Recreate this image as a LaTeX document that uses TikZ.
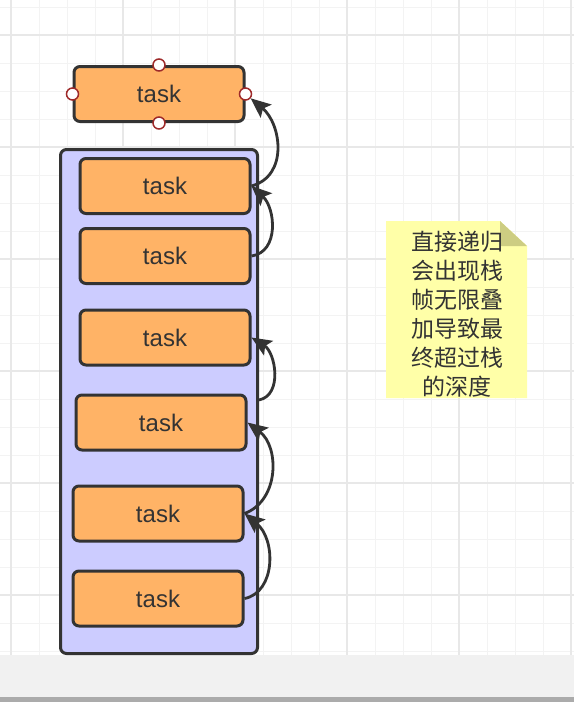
\documentclass[tikz,border=0pt]{standalone}
\usepackage{fontspec}
\setmainfont{Liberation Sans}
\newfontfamily\cjk{Noto Sans CJK SC}
\usetikzlibrary{arrows.meta,calc}
\definecolor{ink}{HTML}{333333}
\definecolor{taskfill}{HTML}{FFB366}
\definecolor{stackfill}{HTML}{CCCCFF}
\definecolor{notefill}{HTML}{FFFFA8}
\definecolor{notefold}{HTML}{CDCD82}
\definecolor{gridminor}{HTML}{F3F3F3}
\definecolor{gridmajor}{HTML}{E8E8E8}
\definecolor{handlered}{HTML}{9E2A2A}
\definecolor{bandgray}{HTML}{F1F1F1}
\definecolor{bargray}{HTML}{ABABAB}
\tikzset{
  taskbox/.style={draw=ink, fill=taskfill, line width=3pt, rounded corners=6pt,
    minimum width=170pt, minimum height=55pt, inner sep=0pt,
    text=ink, font=\fontsize{24pt}{28pt}\selectfont},
  stackbox/.style={draw=ink, fill=stackfill, line width=3pt, rounded corners=6pt,
    minimum width=197pt, minimum height=504pt, inner sep=0pt},
  handle/.style={circle, draw=handlered, fill=white, line width=1.5pt,
    minimum size=12pt, inner sep=0pt},
  arr/.style={draw=ink, line width=2.8pt,
    arrows={-Stealth[length=20pt,width=17pt,inset=4pt]}},
  notetext/.style={text=ink, align=center, inner sep=0pt,
    font=\cjk\fontsize{23pt}{29pt}\selectfont}
}
\begin{document}
\begin{tikzpicture}[x=1pt,y=1pt]
\useasboundingbox (0,0) rectangle (574,-702);
\fill[white] (0,0) rectangle (574,-702);
% grid
\foreach \i in {0,...,20} {
  \pgfmathsetmacro{\xx}{11+28*\i}
  \draw[gridminor, line width=1pt] (\xx,0) -- (\xx,-655);
}
\foreach \i in {0,...,23} {
  \pgfmathsetmacro{\yy}{-7-28*\i}
  \draw[gridminor, line width=1pt] (0,\yy) -- (574,\yy);
}
\foreach \xx in {11,123,235,347,459,571}
  \draw[gridmajor, line width=1.2pt] (\xx,0) -- (\xx,-655);
\foreach \yy in {35,147,259,371,483,595}
  \draw[gridmajor, line width=1.2pt] (0,-\yy) -- (574,-\yy);
% bottom band
\fill[bandgray] (0,-655) rectangle (574,-697);
\fill[bargray] (0,-697) rectangle (574,-702);

% stack container
\node[stackbox] (stack) at (159,-401.5) {};

% tasks
\node[taskbox] (top) at (159,-94) {task};
\node[taskbox] (t1) at (165,-186) {task};
\node[taskbox] (t2) at (165,-256) {task};
\node[taskbox] (t3) at (165,-337.5) {task};
\node[taskbox] (t4) at (161,-422.5) {task};
\node[taskbox] (t5) at (158,-513.5) {task};
\node[taskbox] (t6) at (158,-598.5) {task};

% selection handles
\node[handle] (hT) at (top.north) {};
\node[handle] (hB) at (top.south) {};
\node[handle] (hL) at (top.west) {};
\node[handle] (hR) at (top.east) {};

% connectors
\coordinate (s43) at (259,-400);
\draw[arr] (t1.east) .. controls ($(t1.east)+(37,10)$) and ($(hR)+(36,-30)$) .. (hR);
\draw[arr] (t2.east) .. controls ($(t2.east)+(28,4)$) and ($(t1.east)+(24,-22)$) .. (t1.east);
\draw[arr] (s43) .. controls ($(s43)+(24,5)$) and ($(t3.east)+(24,-15)$) .. (t3.east);
\draw[arr] (t5.east) .. controls ($(t5.east)+(35,13)$) and ($(t4.east)+(32,-24)$) .. (t4.east);
\draw[arr] (t6.east) .. controls ($(t6.east)+(31,6)$) and ($(t5.east)+(32,-26)$) .. (t5.east);

% note
\fill[notefill] (386,-221) -- (500,-221) -- (527,-246) -- (527,-398) -- (386,-398) -- cycle;
\fill[notefold] (500,-221) -- (500,-246) -- (527,-246) -- cycle;
\node[notetext] (note) at (457,-314) {直接递归\\会出现栈\\帧无限叠\\加导致最\\终超过栈\\的深度};
\end{tikzpicture}
\end{document}
